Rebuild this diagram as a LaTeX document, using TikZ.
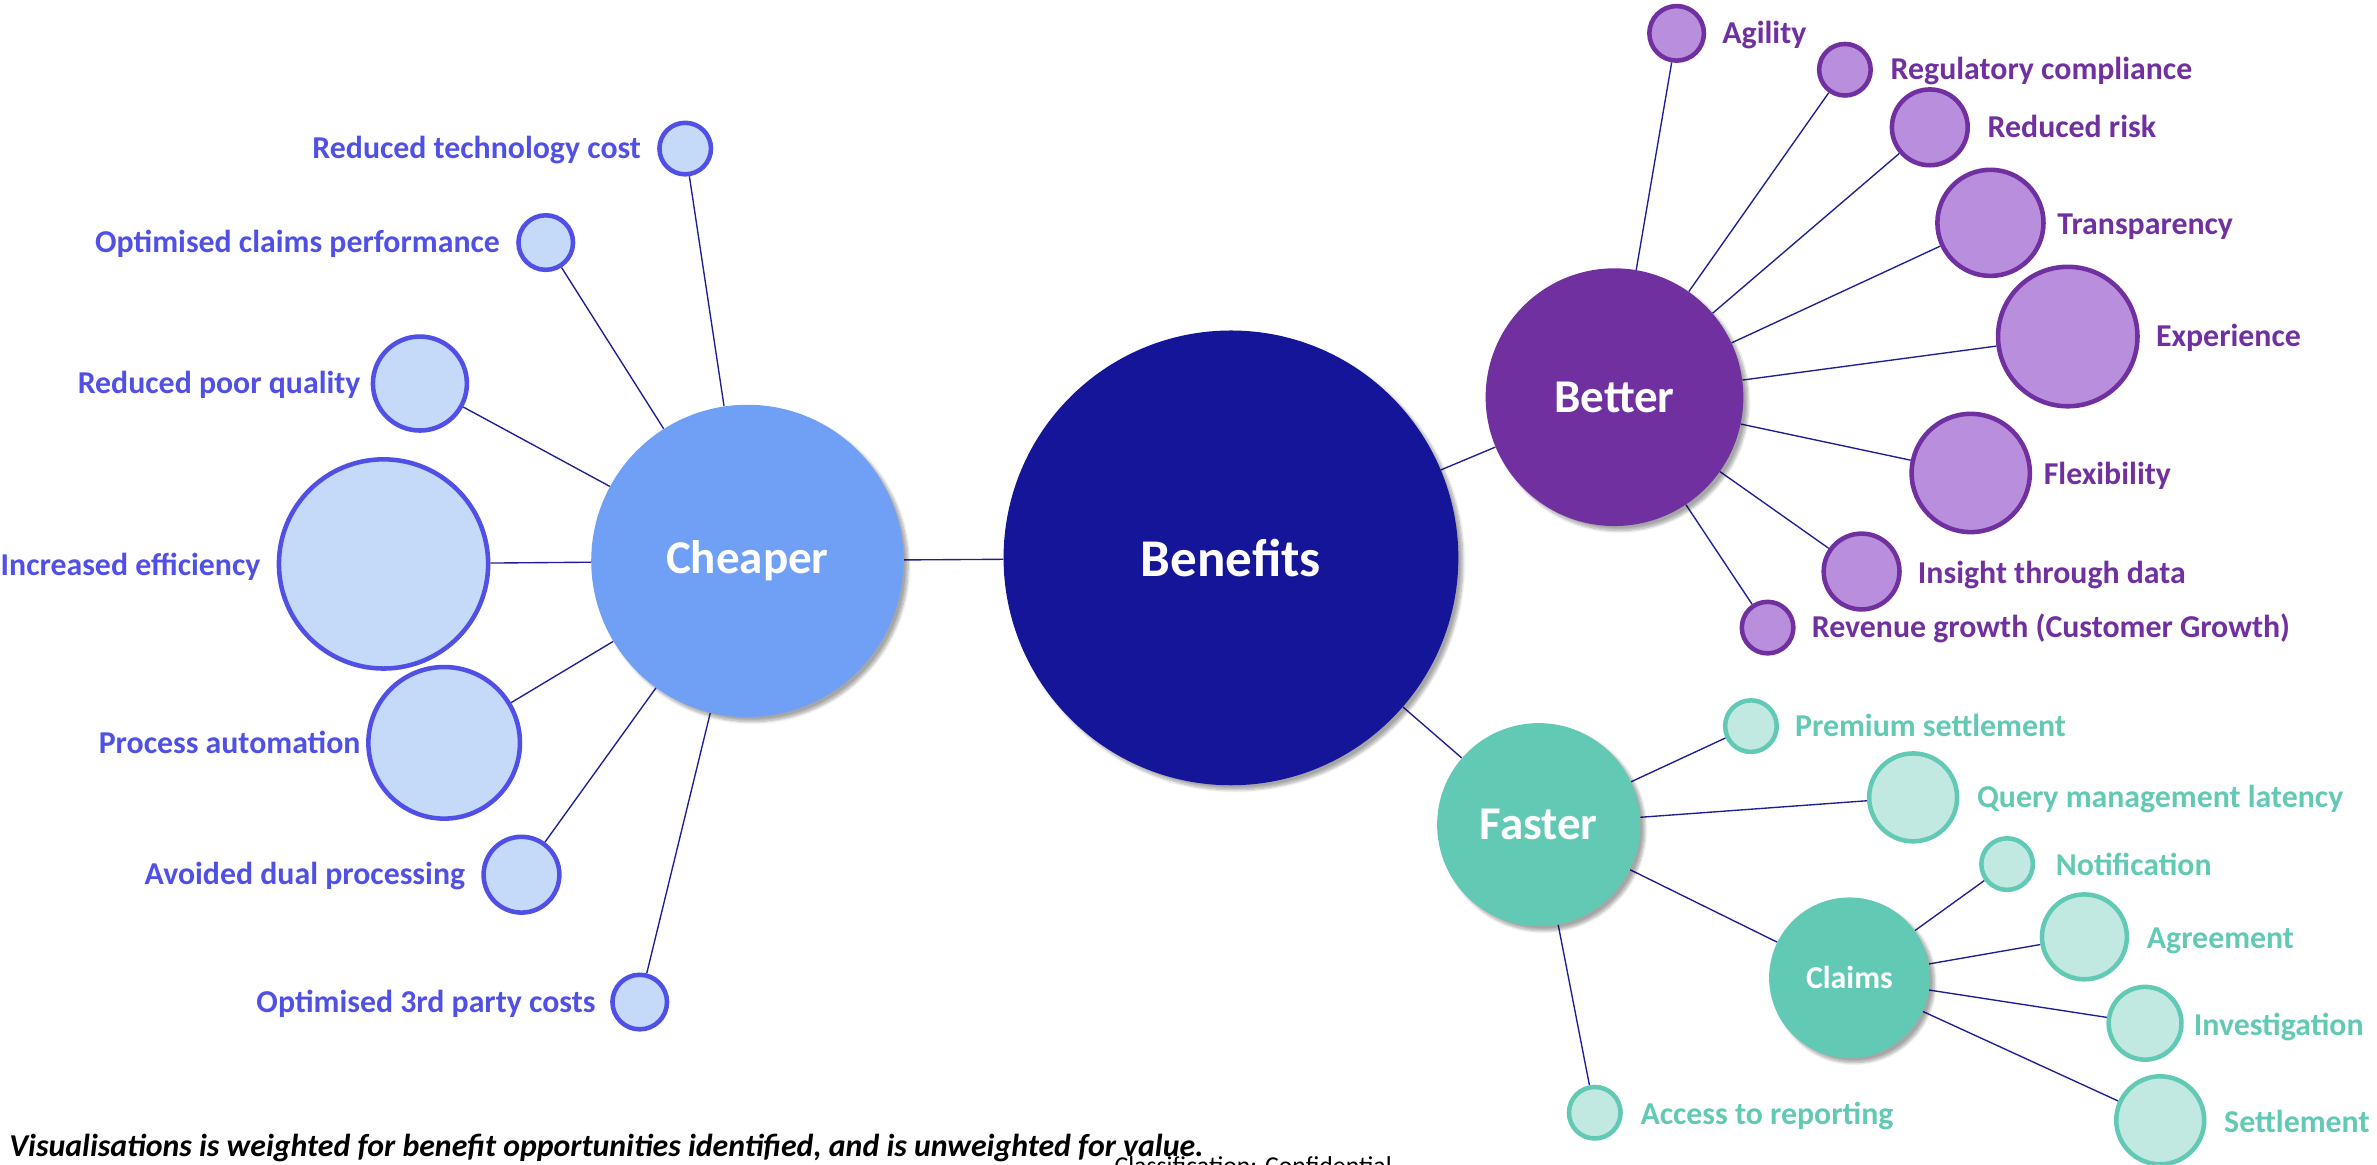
\documentclass[tikz,border=0pt]{standalone}
\usepackage{fontspec}
\setmainfont{Carlito}
\usetikzlibrary{backgrounds,shadows.blur}

\definecolor{benblue}{RGB}{21,21,153}
\definecolor{cheapblue}{RGB}{111,160,245}
\definecolor{cheaplight}{RGB}{197,217,249}
\definecolor{cheapdark}{RGB}{80,80,230}
\definecolor{betterpurple}{RGB}{112,48,160}
\definecolor{betterlight}{RGB}{185,142,220}
\definecolor{fasterteal}{RGB}{98,201,181}
\definecolor{fasterlight}{RGB}{193,233,225}
\definecolor{linkblue}{RGB}{30,30,150}

\tikzset{
    dia/.style={minimum size=#1pt},
    hub/.style={circle, inner sep=0pt, text=white, font=\bfseries,
        blur shadow={shadow xshift=3pt, shadow yshift=-3pt, shadow blur steps=8, shadow opacity=35}},
    leaf/.style={circle, inner sep=0pt, line width=3pt},
    cheapleaf/.style={leaf, draw=cheapdark, fill=cheaplight},
    betterleaf/.style={leaf, draw=betterpurple, fill=betterlight},
    fasterleaf/.style={leaf, draw=fasterteal, fill=fasterlight},
    tag/.style={inner sep=0pt, text height=13.5pt, text depth=0pt, font=\fontsize{21}{25}\selectfont\bfseries},
    cheaptag/.style={tag, anchor=east, text=cheapdark},
    bettertag/.style={tag, anchor=west, text=betterpurple},
    fastertag/.style={tag, anchor=west, text=fasterteal},
}

\begin{document}
\begin{tikzpicture}[x=1pt, y=-1pt]
        \useasboundingbox (0,0) rectangle (1568,768);
        % hubs
        \node[hub, fill=benblue, dia=300, font=\fontsize{35}{40}\selectfont\bfseries] (ben) at (812, 368) {Benefits};
        \node[hub, fill=cheapblue, dia=206, font=\fontsize{31}{37}\selectfont\bfseries] (chp) at (493, 370) {Cheaper};
        \node[hub, fill=betterpurple, dia=170, font=\fontsize{31}{37}\selectfont\bfseries] (bet) at (1065, 262) {Better};
        \node[hub, fill=fasterteal, dia=134, font=\fontsize{31}{37}\selectfont\bfseries] (fst) at (1015, 544) {Faster};
        \node[hub, fill=fasterteal, dia=106, font=\fontsize{21}{25}\selectfont\bfseries] (clm) at (1220, 645) {Claims};
        % cheaper
        \begin{scope}[every node/.style={cheapleaf}]
            \node[dia=34] (c1) at (452, 98) {};
            \node[dia=36] (c2) at (360, 160) {};
            \node[dia=62] (c3) at (277, 253) {};
            \node[dia=138] (c4) at (253, 372) {};
            \node[dia=100] (c5) at (293, 490) {};
            \node[dia=50] (c6) at (344, 577) {};
            \node[dia=36] (c7) at (422, 661) {};
        \end{scope}
        \node[cheaptag] (c1t) at (423, 98) {Reduced technology cost};
        \node[cheaptag] (c2t) at (330, 160) {Optimised claims performance};
        \node[cheaptag] (c3t) at (238, 253) {Reduced poor quality};
        \node[cheaptag] (c4t) at (172, 373) {Increased efficiency};
        \node[cheaptag] (c5t) at (238, 490) {Process automation};
        \node[cheaptag] (c6t) at (307, 577) {Avoided dual processing};
        \node[cheaptag] (c7t) at (393, 661) {Optimised 3rd party costs};
        % better
        \begin{scope}[every node/.style={betterleaf}]
            \node[dia=36] (b1) at (1106, 22) {};
            \node[dia=34] (b2) at (1217, 46) {};
            \node[dia=50] (b3) at (1273, 84) {};
            \node[dia=70] (b4) at (1313, 147) {};
            \node[dia=92] (b5) at (1364, 222) {};
            \node[dia=78] (b6) at (1300, 312) {};
            \node[dia=50] (b7) at (1228, 377) {};
            \node[dia=34] (b8) at (1166, 414) {};
        \end{scope}
        \node[bettertag] (b1t) at (1136, 22) {Agility};
        \node[bettertag] (b2t) at (1247, 46) {Regulatory compliance};
        \node[bettertag] (b3t) at (1311, 84) {Reduced risk};
        \node[bettertag] (b4t) at (1357, 148) {Transparency};
        \node[bettertag] (b5t) at (1422, 222) {Experience};
        \node[bettertag] (b6t) at (1348, 313) {Flexibility};
        \node[bettertag] (b7t) at (1265, 378) {Insight through data};
        \node[bettertag] (b8t) at (1195, 414) {Revenue growth (Customer Growth)};
        % faster
        \begin{scope}[every node/.style={fasterleaf}]
            \node[dia=34] (f1) at (1155, 479) {};
            \node[dia=58] (f2) at (1262, 526) {};
            \node[dia=34] (f3) at (1052, 734) {};
            \node[dia=34] (k1) at (1324, 570) {};
            \node[dia=56] (k2) at (1375, 618) {};
            \node[dia=48] (k3) at (1415, 675) {};
            \node[dia=58] (k4) at (1425, 739) {};
        \end{scope}
        \node[fastertag] (f1t) at (1184, 479) {Premium settlement};
        \node[fastertag] (f2t) at (1304, 526) {Query management latency};
        \node[fastertag] (f3t) at (1082, 735) {Access to reporting};
        \node[fastertag] (k1t) at (1356, 571) {Notification};
        \node[fastertag] (k2t) at (1416, 619) {Agreement};
        \node[fastertag] (k3t) at (1447, 676) {Investigation};
        \node[fastertag] (k4t) at (1467, 740) {Settlement};
        % footer
        \node[anchor=base west, inner sep=0pt, font=\fontsize{21}{25}\selectfont\bfseries\itshape] (note) at (6, 763)
            {Visualisations is weighted for benefit opportunities identified, and is unweighted for value.};
        \node[anchor=base west, inner sep=0pt, font=\fontsize{17}{20}\selectfont] (cls) at (735, 775) {Classification: Confidential};
        \begin{scope}[on background layer, every edge/.style={draw=linkblue, line width=0.9pt}]
            \path [-] (ben) edge (chp);
            \path [-] (ben) edge (bet);
            \path [-] (ben) edge (fst);
            \foreach \i in {1,...,7} { \path [-] (chp) edge (c\i); }
            \foreach \i in {1,...,8} { \path [-] (bet) edge (b\i); }
            \foreach \i in {1,2,3} { \path [-] (fst) edge (f\i); }
            \path [-] (fst) edge (clm);
            \foreach \i in {1,...,4} { \path [-] (clm) edge (k\i); }
        \end{scope}
    \end{tikzpicture}
\end{document}
